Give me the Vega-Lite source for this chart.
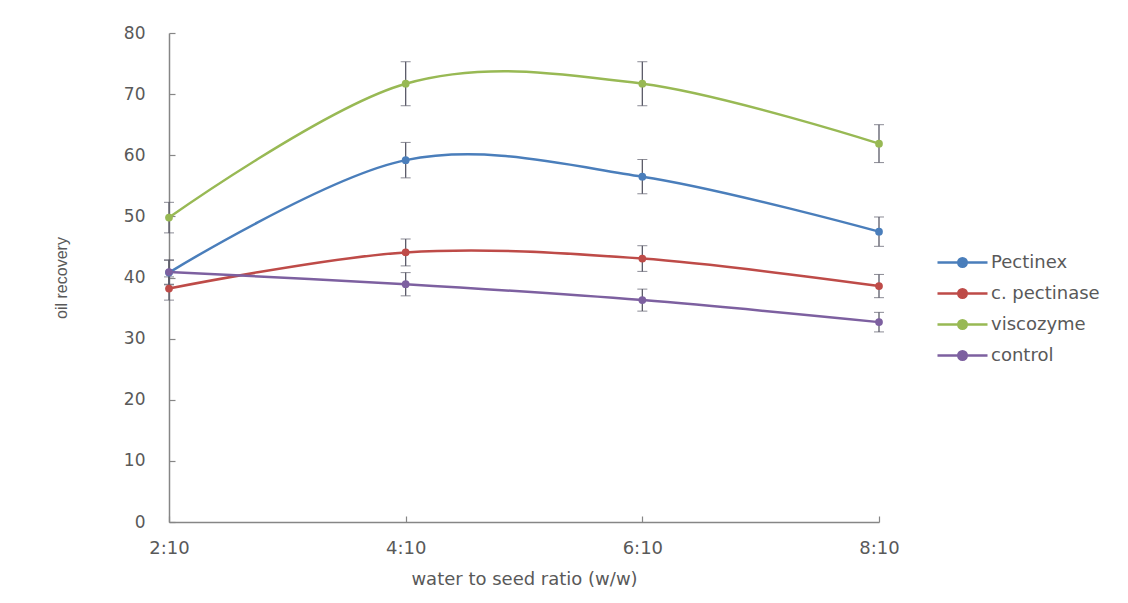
{
  "$schema": "https://vega.github.io/schema/vega-lite/v6.json",
  "autosize": {"type": "none"},
  "width": 710,
  "height": 489,
  "padding": {"left": 169, "top": 33, "right": 249, "bottom": 81},
  "background": "white",
  "config": {"view": {"stroke": null}},
  "data": {"values": [
    {"ratio": "2:10", "series": "Pectinex", "value": 40.8, "lo": 38.8, "hi": 42.8},
    {"ratio": "4:10", "series": "Pectinex", "value": 59.2, "lo": 56.3, "hi": 62.1},
    {"ratio": "6:10", "series": "Pectinex", "value": 56.5, "lo": 53.7, "hi": 59.3},
    {"ratio": "8:10", "series": "Pectinex", "value": 47.5, "lo": 45.1, "hi": 49.9},
    {"ratio": "2:10", "series": "c. pectinase", "value": 38.2, "lo": 36.3, "hi": 40.1},
    {"ratio": "4:10", "series": "c. pectinase", "value": 44.1, "lo": 41.9, "hi": 46.3},
    {"ratio": "6:10", "series": "c. pectinase", "value": 43.1, "lo": 41.0, "hi": 45.2},
    {"ratio": "8:10", "series": "c. pectinase", "value": 38.6, "lo": 36.7, "hi": 40.5},
    {"ratio": "2:10", "series": "viscozyme", "value": 49.8, "lo": 47.3, "hi": 52.3},
    {"ratio": "4:10", "series": "viscozyme", "value": 71.7, "lo": 68.1, "hi": 75.3},
    {"ratio": "6:10", "series": "viscozyme", "value": 71.7, "lo": 68.1, "hi": 75.3},
    {"ratio": "8:10", "series": "viscozyme", "value": 61.9, "lo": 58.8, "hi": 65.0},
    {"ratio": "2:10", "series": "control", "value": 40.9, "lo": 38.9, "hi": 42.9},
    {"ratio": "4:10", "series": "control", "value": 38.9, "lo": 37.0, "hi": 40.8},
    {"ratio": "6:10", "series": "control", "value": 36.3, "lo": 34.5, "hi": 38.1},
    {"ratio": "8:10", "series": "control", "value": 32.7, "lo": 31.1, "hi": 34.3}
  ]},
  "encoding": {
    "x": {
      "field": "ratio", "type": "ordinal",
      "scale": {"type": "point", "padding": 0},
      "axis": {
        "title": "water to seed ratio (w/w)",
        "labelAngle": 0,
        "labelFont": "DejaVu Sans", "labelFontSize": 18, "labelColor": "#595959",
        "labelPadding": 23,
        "titleFont": "DejaVu Sans", "titleFontSize": 18, "titleColor": "#595959", "titleFontWeight": "normal",
        "titlePadding": 13,
        "domainColor": "#868686", "domainWidth": 1.5,
        "tickColor": "#868686", "tickSize": -6, "tickWidth": 1.2,
        "grid": false
      }
    }
  },
  "layer": [
    {
      "mark": {"type": "errorbar", "ticks": {"size": 10, "color": "#5a5a68", "strokeWidth": 1.3}, "rule": {"color": "#5a5a68", "strokeWidth": 1.3}},
      "encoding": {
        "y": {"field": "lo", "type": "quantitative", "title": "oil recovery"},
        "y2": {"field": "hi"}
      }
    },
    {
      "mark": {"type": "line", "interpolate": "cardinal", "strokeWidth": 2.5},
      "encoding": {
        "y": {
          "field": "value", "type": "quantitative",
          "title": "oil recovery",
          "scale": {"domain": [0, 80]},
          "axis": {
            "title": "oil recovery",
            "values": [0, 10, 20, 30, 40, 50, 60, 70, 80],
            "labelFont": "DejaVu Sans", "labelFontSize": 17, "labelColor": "#595959",
            "labelPadding": 30,
            "titleFont": "Liberation Sans", "titleFontSize": 16, "titleColor": "#595959", "titleFontWeight": "normal",
            "titlePadding": 54,
            "domainColor": "#868686", "domainWidth": 1.5,
            "tickColor": "#868686", "tickSize": -6, "tickWidth": 1.2,
            "grid": false
          }
        },
        "color": {
          "field": "series", "type": "nominal",
          "scale": {
            "domain": ["Pectinex", "c. pectinase", "viscozyme", "control"],
            "range": ["#4a7ebb", "#be4b48", "#98b954", "#7d60a0"]
          },
          "legend": {
            "title": null,
            "orient": "none",
            "legendX": 777,
            "legendY": 213,
            "symbolType": "M-1.667,0H1.667M-0.283,0A0.283,0.283 0 1,0 0.283,0A0.283,0.283 0 1,0 -0.283,0Z",
            "symbolSize": 900,
            "symbolStrokeWidth": 2.5,
            "labelFont": "DejaVu Sans", "labelFontSize": 18, "labelColor": "#595959",
            "labelOffset": 12,
            "rowPadding": 5,
            "encode": {"symbols": {"update": {"fill": {"scale": "color", "field": "value"}}}}
          }
        }
      }
    },
    {
      "mark": {"type": "point", "filled": true, "size": 60, "opacity": 1},
      "encoding": {
        "y": {"field": "value", "type": "quantitative", "title": "oil recovery"},
        "color": {"field": "series", "type": "nominal", "legend": null}
      }
    }
  ]
}
